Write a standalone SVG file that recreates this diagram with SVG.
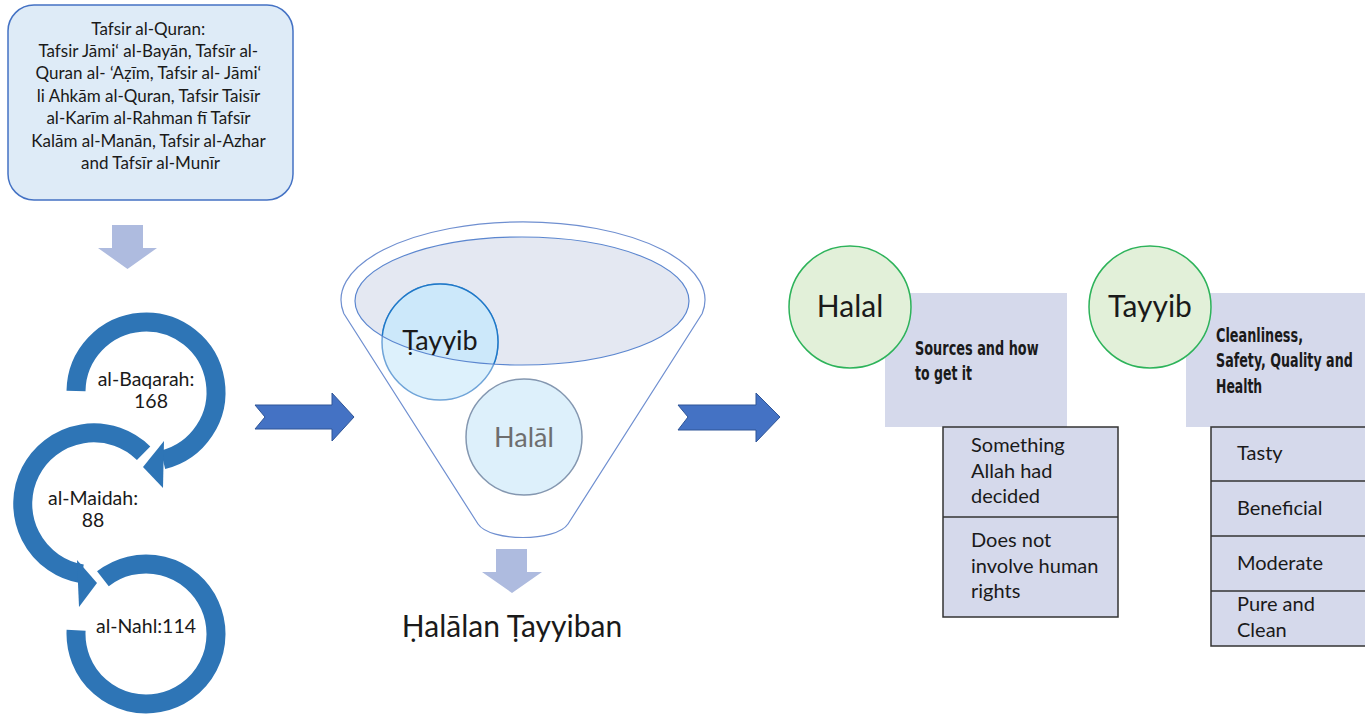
<svg xmlns="http://www.w3.org/2000/svg" width="1365" height="715" viewBox="0 0 1365 715">
<defs>
<style>
.t{font-family:Lato,"Noto Sans","DejaVu Sans",sans-serif;fill:#1a1a1a}
.c{text-anchor:middle}
.b{font-family:"DejaVu Sans Condensed","DejaVu Sans",sans-serif;font-weight:bold;fill:#1a1a1a;font-size:19px}
.ring{fill:none;stroke:#2E75B6;stroke-width:19}
.head{fill:#2E75B6}
.down{fill:#AEBBDF}
.rarrow{fill:#4472C4;stroke:#2F5597;stroke-width:1}
.gc{fill:#E2F0D9;stroke:#2DB35A;stroke-width:1.5}
.box{fill:#D5D9EB}
.tbl{fill:#D5D9EB;stroke:#333;stroke-width:1.5}
</style>
<clipPath id="ellClip"><ellipse cx="522" cy="301" rx="167" ry="64"/></clipPath>
</defs>

<g id="tafsir-box">
<rect x="8" y="5" width="285" height="195" rx="26" ry="26" fill="#DEEBF7" stroke="#4472C4" stroke-width="1.5"/>
<text class="t c" font-size="17">
<tspan x="150.5" y="35">Tafsir al-Quran:</tspan>
<tspan x="150.5" y="57">Tafsir Jāmi‘ al-Bayān, Tafsīr al-</tspan>
<tspan x="150.5" y="79">Quran al- ‘Aẓīm, Tafsir al- Jāmi‘</tspan>
<tspan x="150.5" y="102">li Ahkām al-Quran, Tafsir Taisīr</tspan>
<tspan x="150.5" y="124">al-Karīm al-Rahman fī Tafsīr</tspan>
<tspan x="150.5" y="147">Kalām al-Manān, Tafsir al-Azhar</tspan>
<tspan x="150.5" y="169">and Tafsīr al-Munīr</tspan>
</text>
</g>

<g id="connectors">
<polygon class="down" points="112,225 143,225 143,248 157,248 127.5,269 98,248 112,248"/>
<polygon class="rarrow" points="255,405 332,405 332,393 354,417 332,441 332,429 255,429 265,417"/>
<polygon class="rarrow" points="678,405 756,405 756,393 780,417 756,442 756,430 678,430 688,417"/>
<polygon class="down" points="496,549 527,549 527,572 542,572 512,593 482,572 496,572"/>
</g>

<g id="baqarah">
<path class="ring" d="M76 391 A70 70 0 1 1 162.9 459.9"/>
<polygon class="head" points="164,441 163,488 143,467"/>
<text class="t c" font-size="19.5"><tspan x="146" y="386">al-Baqarah:</tspan><tspan x="151" y="408">168</tspan></text>
</g>

<g id="maidah">
<path class="ring" d="M143.6 453.3 A71 71 0 1 0 82.2 573.9"/>
<polygon class="head" points="77,560 79,607 97,583"/>
<text class="t c" font-size="19.5"><tspan x="93" y="505">al-Maidah:</tspan><tspan x="93" y="527">88</tspan></text>
</g>

<g id="nahl">
<path class="ring" d="M102.9 578.8 A70 70 0 1 1 76.1 630.3"/>
<text class="t c" font-size="19.5" x="146" y="633">al-Nahl:114</text>
</g>

<g id="funnel">
<path d="M343.8 313.5 A182 78 0 1 1 702.2 313.5 L568 524 C556 542 490 542 478 524 Z" fill="#fff" stroke="#6F8FD0" stroke-width="1.2"/>
<ellipse cx="522" cy="301" rx="167" ry="64" fill="#E4E8F2"/>
</g>

<g id="tayyib-circle">
<circle cx="440" cy="342" r="58" fill="#DDF1FC" stroke="#6FA4D8" stroke-width="1.5"/>
<circle cx="440" cy="342" r="58" fill="#CCE8FA" stroke="#1F78C8" stroke-width="1.5" clip-path="url(#ellClip)"/>
<ellipse cx="522" cy="301" rx="167" ry="64" fill="none" stroke="#5B86CF" stroke-width="1.2"/>
<text class="t c" font-size="27" x="440" y="350">Ṭayyib</text>
</g>

<g id="halal-circle">
<circle cx="524" cy="437" r="58" fill="#DDF0FB" stroke="#8497B0" stroke-width="1.5"/>
<text class="c" font-family="Lato,'Noto Sans',sans-serif" font-size="27" fill="#6E6E6E" x="524" y="447">Halāl</text>
</g>

<g id="result">
<text class="t c" font-size="30" x="512" y="637">Ḥalālan Ṭayyiban</text>
</g>

<g id="halal-group">
<rect class="box" x="885" y="293" width="182" height="134"/>
<circle class="gc" cx="850" cy="307" r="61"/>
<text class="t c" font-size="30" x="850" y="317">Halal</text>
<text class="b" transform="translate(915,0) scale(0.6,1)"><tspan x="0" y="355" textLength="206" lengthAdjust="spacingAndGlyphs">Sources and how</tspan><tspan x="0" y="380" textLength="95" lengthAdjust="spacingAndGlyphs">to get it</tspan></text>
<rect class="tbl" x="943" y="427" width="175" height="190"/>
<line x1="943" y1="517" x2="1118" y2="517" stroke="#333" stroke-width="1.5"/>
<text class="t" font-size="20"><tspan x="971" y="452">Something</tspan><tspan x="971" y="478">Allah had</tspan><tspan x="971" y="503">decided</tspan><tspan x="971" y="547">Does not</tspan><tspan x="971" y="573">involve human</tspan><tspan x="971" y="598">rights</tspan></text>
</g>

<g id="tayyib-group">
<rect class="box" x="1186" y="293" width="180" height="134"/>
<circle class="gc" cx="1150" cy="307" r="61"/>
<text class="t c" font-size="30" x="1150" y="317">Tayyib</text>
<text class="b" transform="translate(1216,0) scale(0.6,1)"><tspan x="0" y="342" textLength="145" lengthAdjust="spacingAndGlyphs">Cleanliness,</tspan><tspan x="0" y="367" textLength="228" lengthAdjust="spacingAndGlyphs">Safety, Quality and</tspan><tspan x="0" y="393" textLength="77" lengthAdjust="spacingAndGlyphs">Health</tspan></text>
<rect class="tbl" x="1211" y="427" width="160" height="219"/>
<g stroke="#333" stroke-width="1.5"><line x1="1211" y1="481" x2="1371" y2="481"/><line x1="1211" y1="536" x2="1371" y2="536"/><line x1="1211" y1="591" x2="1371" y2="591"/></g>
<text class="t" font-size="20"><tspan x="1237" y="460">Tasty</tspan><tspan x="1237" y="515">Beneficial</tspan><tspan x="1237" y="570">Moderate</tspan><tspan x="1237" y="611">Pure and</tspan><tspan x="1237" y="637">Clean</tspan></text>
</g>
</svg>
